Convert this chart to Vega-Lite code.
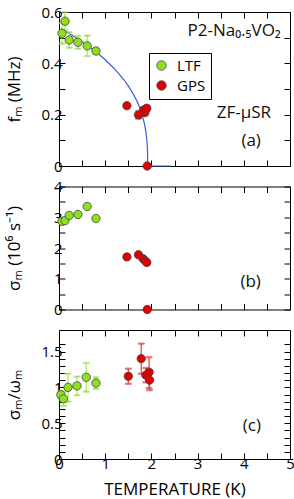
{
  "$schema": "https://vega.github.io/schema/vega-lite/v6.json",
  "padding": {"left": 4, "top": 4, "right": 0, "bottom": 0},
  "bounds": "flush",
  "spacing": 20.5,
  "resolve": {"scale": {"fill": "independent", "stroke": "independent"}, "legend": {"fill": "independent", "stroke": "independent"}},
  "config": {
    "font": "Open Sans",
    "view": {"stroke": "black", "strokeWidth": 1},
    "axis": {"domain": false, "grid": false, "tickColor": "black", "tickSize": -6, "tickWidth": 1, "labelFontSize": 15, "labelColor": "black", "titleFontSize": 17, "titleColor": "black", "titleFontWeight": "normal", "labelPadding": 3, "labelOverlap": false, "labelFlush": false}
  },
  "datasets": {
    "fit": [
      {"T": 0.05, "f": 0.535}, {"T": 0.2, "f": 0.519}, {"T": 0.4, "f": 0.496}, {"T": 0.6, "f": 0.472},
      {"T": 0.8, "f": 0.445}, {"T": 1.0, "f": 0.414}, {"T": 1.2, "f": 0.379}, {"T": 1.4, "f": 0.337},
      {"T": 1.5, "f": 0.312}, {"T": 1.6, "f": 0.283}, {"T": 1.7, "f": 0.248}, {"T": 1.75, "f": 0.226},
      {"T": 1.8, "f": 0.199}, {"T": 1.85, "f": 0.164}, {"T": 1.88, "f": 0.134}, {"T": 1.9, "f": 0.104},
      {"T": 1.91, "f": 0.081}, {"T": 1.915, "f": 0.063}, {"T": 1.918, "f": 0.046}, {"T": 1.92, "f": 0},
      {"T": 2.42, "f": 0}
    ],
    "a": [
      {"T": 0.065, "v": 0.517, "lo": 0.477, "hi": 0.557, "series": "LTF"},
      {"T": 0.13, "v": 0.564, "lo": 0.529, "hi": 0.599, "series": "LTF"},
      {"T": 0.22, "v": 0.491, "lo": 0.461, "hi": 0.521, "series": "LTF"},
      {"T": 0.41, "v": 0.482, "lo": 0.457, "hi": 0.507, "series": "LTF"},
      {"T": 0.61, "v": 0.468, "lo": 0.428, "hi": 0.508, "series": "LTF"},
      {"T": 0.8, "v": 0.448, "lo": 0.436, "hi": 0.46, "series": "LTF"},
      {"T": 1.47, "v": 0.235, "lo": 0.23, "hi": 0.24, "series": "GPS"},
      {"T": 1.72, "v": 0.199, "lo": 0.185, "hi": 0.213, "series": "GPS"},
      {"T": 1.83, "v": 0.218, "lo": 0.208, "hi": 0.228, "series": "GPS"},
      {"T": 1.86, "v": 0.208, "lo": 0.198, "hi": 0.218, "series": "GPS"},
      {"T": 1.9, "v": 0.225, "lo": 0.215, "hi": 0.235, "series": "GPS"},
      {"T": 1.91, "v": 0, "lo": 0, "hi": 0, "series": "GPS"}
    ],
    "b": [
      {"T": 0.065, "v": 2.87, "series": "LTF"},
      {"T": 0.13, "v": 2.89, "series": "LTF"},
      {"T": 0.22, "v": 3.06, "series": "LTF"},
      {"T": 0.41, "v": 3.09, "series": "LTF"},
      {"T": 0.61, "v": 3.35, "series": "LTF"},
      {"T": 0.8, "v": 2.96, "series": "LTF"},
      {"T": 1.47, "v": 1.71, "series": "GPS"},
      {"T": 1.72, "v": 1.78, "series": "GPS"},
      {"T": 1.82, "v": 1.65, "series": "GPS"},
      {"T": 1.87, "v": 1.58, "series": "GPS"},
      {"T": 1.9, "v": 1.53, "series": "GPS"},
      {"T": 1.91, "v": 0, "series": "GPS"}
    ],
    "c": [
      {"T": 0.04, "v": 0.896, "lo": 0.84, "hi": 0.95, "series": "LTF"},
      {"T": 0.095, "v": 0.84, "lo": 0.74, "hi": 0.94, "series": "LTF"},
      {"T": 0.195, "v": 1.0, "lo": 0.8, "hi": 1.19, "series": "LTF"},
      {"T": 0.39, "v": 1.02, "lo": 0.89, "hi": 1.15, "series": "LTF"},
      {"T": 0.59, "v": 1.14, "lo": 0.94, "hi": 1.34, "series": "LTF"},
      {"T": 0.8, "v": 1.06, "lo": 0.98, "hi": 1.14, "series": "LTF"},
      {"T": 1.5, "v": 1.154, "lo": 1.05, "hi": 1.26, "series": "GPS"},
      {"T": 1.78, "v": 1.4, "lo": 1.19, "hi": 1.61, "series": "GPS"},
      {"T": 1.88, "v": 1.17, "lo": 1.07, "hi": 1.27, "series": "GPS"},
      {"T": 1.95, "v": 1.21, "lo": 0.99, "hi": 1.42, "series": "GPS"},
      {"T": 1.96, "v": 1.1, "lo": 0.96, "hi": 1.24, "series": "GPS"}
    ]
  },
  "vconcat": [
    {
      "width": 231, "height": 154,
      "resolve": {"axis": {"x": "independent", "y": "independent"}},
      "layer": [
        {
          "data": {"name": "fit"},
          "mark": {"type": "line", "color": "#3a5fd8", "strokeWidth": 1.2},
          "encoding": {
            "x": {"field": "T", "type": "quantitative", "scale": {"domain": [0, 5]}, "axis": {"orient": "bottom", "values": [0,0.5,1,1.5,2,2.5,3,3.5,4,4.5,5], "labels": false, "title": null}},
            "y": {"field": "f", "type": "quantitative", "scale": {"domain": [0, 0.6]}, "axis": {"orient": "left", "values": [0,0.1,0.2,0.3,0.4,0.5,0.6], "labelExpr": "round(datum.value*10) % 2 == 0 ? format(datum.value, '~g') : ''", "title": "fₘ (MHz)", "titleX": -36}}
          }
        },
        {
          "data": {"name": "a"},
          "mark": {"type": "rule", "strokeWidth": 1.2},
          "encoding": {
            "x": {"field": "T", "type": "quantitative", "axis": {"orient": "top", "values": [0,0.5,1,1.5,2,2.5,3,3.5,4,4.5,5], "labels": false, "title": null}},
            "y": {"field": "lo", "type": "quantitative", "axis": {"orient": "right", "values": [0,0.1,0.2,0.3,0.4,0.5,0.6], "labels": false, "title": null}},
            "y2": {"field": "hi"},
            "stroke": {"field": "series", "type": "nominal", "scale": {"domain": ["GPS", "LTF"], "range": ["#e83a3a", "#a8e84a"]}, "legend": null}
          }
        },
        {
          "data": {"name": "a"},
          "mark": {"type": "tick", "orient": "horizontal", "size": 6, "thickness": 1.2},
          "encoding": {
            "x": {"field": "T", "type": "quantitative", "axis": null},
            "y": {"field": "lo", "type": "quantitative", "axis": null},
            "stroke": {"field": "series", "type": "nominal", "scale": {"domain": ["GPS", "LTF"], "range": ["#e83a3a", "#a8e84a"]}, "legend": null}
          }
        },
        {
          "data": {"name": "a"},
          "mark": {"type": "tick", "orient": "horizontal", "size": 6, "thickness": 1.2},
          "encoding": {
            "x": {"field": "T", "type": "quantitative", "axis": null},
            "y": {"field": "hi", "type": "quantitative", "axis": null},
            "stroke": {"field": "series", "type": "nominal", "scale": {"domain": ["GPS", "LTF"], "range": ["#e83a3a", "#a8e84a"]}, "legend": null}
          }
        },
        {
          "data": {"name": "a"},
          "mark": {"type": "circle", "size": 70, "opacity": 1, "stroke": "#444", "strokeWidth": 0.8},
          "encoding": {
            "x": {"field": "T", "type": "quantitative", "axis": null},
            "y": {"field": "v", "type": "quantitative", "axis": null},
            "fill": {"field": "series", "type": "nominal", "scale": {"domain": ["LTF", "GPS"], "range": ["#8ee01e", "#e00000"]},
              "legend": {"orient": "none", "legendX": 90, "legendY": 41, "title": null, "strokeColor": "black", "fillColor": "white", "padding": 5, "labelFontSize": 15, "labelColor": "black", "symbolSize": 90, "symbolStrokeColor": "#444", "symbolStrokeWidth": 0.8, "symbolType": "circle", "rowPadding": 4, "labelOffset": 8}}
          }
        },
        {
          "data": {"values": [
            {"T": 4.8, "v": 0.525, "label": "P2-Na₀.₅VO₂"},
            {"T": 4.59, "v": 0.206, "label": "ZF-μSR"},
            {"T": 4.37, "v": 0.098, "label": "(a)"}
          ]},
          "mark": {"type": "text", "align": "right", "baseline": "middle", "fontSize": 17, "color": "#111"},
          "encoding": {
            "x": {"field": "T", "type": "quantitative", "axis": null},
            "y": {"field": "v", "type": "quantitative", "axis": null},
            "text": {"field": "label"}
          }
        }
      ]
    },
    {
      "width": 231, "height": 123,
      "resolve": {"axis": {"x": "independent", "y": "independent"}},
      "layer": [
        {
          "data": {"name": "b"},
          "mark": {"type": "circle", "size": 70, "opacity": 1, "stroke": "#444", "strokeWidth": 0.8},
          "encoding": {
            "x": {"field": "T", "type": "quantitative", "scale": {"domain": [0, 5]}, "axis": {"orient": "bottom", "values": [0,0.5,1,1.5,2,2.5,3,3.5,4,4.5,5], "labels": false, "title": null}},
            "y": {"field": "v", "type": "quantitative", "scale": {"domain": [0, 4]}, "axis": {"orient": "left", "values": [0,0.5,1,1.5,2,2.5,3,3.5,4], "labelExpr": "round(datum.value*2) % 2 == 0 ? format(datum.value, '~g') : ''", "title": "σₘ (10⁶ s⁻¹)", "titleX": -36}},
            "fill": {"field": "series", "type": "nominal", "scale": {"domain": ["LTF", "GPS"], "range": ["#8ee01e", "#e00000"]}, "legend": null}
          }
        },
        {
          "data": {"name": "b"},
          "mark": {"type": "circle", "size": 0, "opacity": 0},
          "encoding": {
            "x": {"field": "T", "type": "quantitative", "axis": {"orient": "top", "values": [0,0.5,1,1.5,2,2.5,3,3.5,4,4.5,5], "labels": false, "title": null}},
            "y": {"field": "v", "type": "quantitative", "axis": {"orient": "right", "values": [0,0.5,1,1.5,2,2.5,3,3.5,4], "labels": false, "title": null}}
          }
        },
        {
          "data": {"values": [{"T": 4.37, "v": 0.9, "label": "(b)"}]},
          "mark": {"type": "text", "align": "right", "baseline": "middle", "fontSize": 17, "color": "#111"},
          "encoding": {
            "x": {"field": "T", "type": "quantitative", "axis": null},
            "y": {"field": "v", "type": "quantitative", "axis": null},
            "text": {"field": "label"}
          }
        }
      ]
    },
    {
      "width": 231, "height": 129,
      "resolve": {"axis": {"x": "independent", "y": "independent"}},
      "layer": [
        {
          "data": {"name": "c"},
          "mark": {"type": "rule", "strokeWidth": 1.2},
          "encoding": {
            "x": {"field": "T", "type": "quantitative", "scale": {"domain": [0, 5]}, "axis": {"orient": "bottom", "values": [0,0.5,1,1.5,2,2.5,3,3.5,4,4.5,5], "labelExpr": "datum.value % 1 == 0 ? format(datum.value, '~g') : ''", "title": "TEMPERATURE (K)", "titlePadding": 10}},
            "y": {"field": "lo", "type": "quantitative", "scale": {"domain": [0, 1.7]}, "axis": {"orient": "left", "values": [0,0.1,0.2,0.3,0.4,0.5,0.6,0.7,0.8,0.9,1,1.1,1.2,1.3,1.4,1.5,1.6], "labelExpr": "round(datum.value*10) % 5 == 0 ? format(datum.value, '~g') : ''", "title": "σₘ/ωₘ", "titleX": -36}},
            "y2": {"field": "hi"},
            "stroke": {"field": "series", "type": "nominal", "scale": {"domain": ["GPS", "LTF"], "range": ["#e83a3a", "#a8e84a"]}, "legend": null}
          }
        },
        {
          "data": {"name": "c"},
          "mark": {"type": "tick", "orient": "horizontal", "size": 6, "thickness": 1.2},
          "encoding": {
            "x": {"field": "T", "type": "quantitative", "axis": {"orient": "top", "values": [0,0.5,1,1.5,2,2.5,3,3.5,4,4.5,5], "labels": false, "title": null}},
            "y": {"field": "lo", "type": "quantitative", "axis": {"orient": "right", "values": [0,0.1,0.2,0.3,0.4,0.5,0.6,0.7,0.8,0.9,1,1.1,1.2,1.3,1.4,1.5,1.6], "labels": false, "title": null}},
            "stroke": {"field": "series", "type": "nominal", "scale": {"domain": ["GPS", "LTF"], "range": ["#e83a3a", "#a8e84a"]}, "legend": null}
          }
        },
        {
          "data": {"name": "c"},
          "mark": {"type": "tick", "orient": "horizontal", "size": 6, "thickness": 1.2},
          "encoding": {
            "x": {"field": "T", "type": "quantitative", "axis": null},
            "y": {"field": "hi", "type": "quantitative", "axis": null},
            "stroke": {"field": "series", "type": "nominal", "scale": {"domain": ["GPS", "LTF"], "range": ["#e83a3a", "#a8e84a"]}, "legend": null}
          }
        },
        {
          "data": {"name": "c"},
          "mark": {"type": "circle", "size": 70, "opacity": 1, "stroke": "#444", "strokeWidth": 0.8},
          "encoding": {
            "x": {"field": "T", "type": "quantitative", "axis": null},
            "y": {"field": "v", "type": "quantitative", "axis": null},
            "fill": {"field": "series", "type": "nominal", "scale": {"domain": ["LTF", "GPS"], "range": ["#8ee01e", "#e00000"]}, "legend": null}
          }
        },
        {
          "data": {"values": [{"T": 4.37, "v": 0.46, "label": "(c)"}]},
          "mark": {"type": "text", "align": "right", "baseline": "middle", "fontSize": 17, "color": "#111"},
          "encoding": {
            "x": {"field": "T", "type": "quantitative", "axis": null},
            "y": {"field": "v", "type": "quantitative", "axis": null},
            "text": {"field": "label"}
          }
        }
      ]
    }
  ]
}
